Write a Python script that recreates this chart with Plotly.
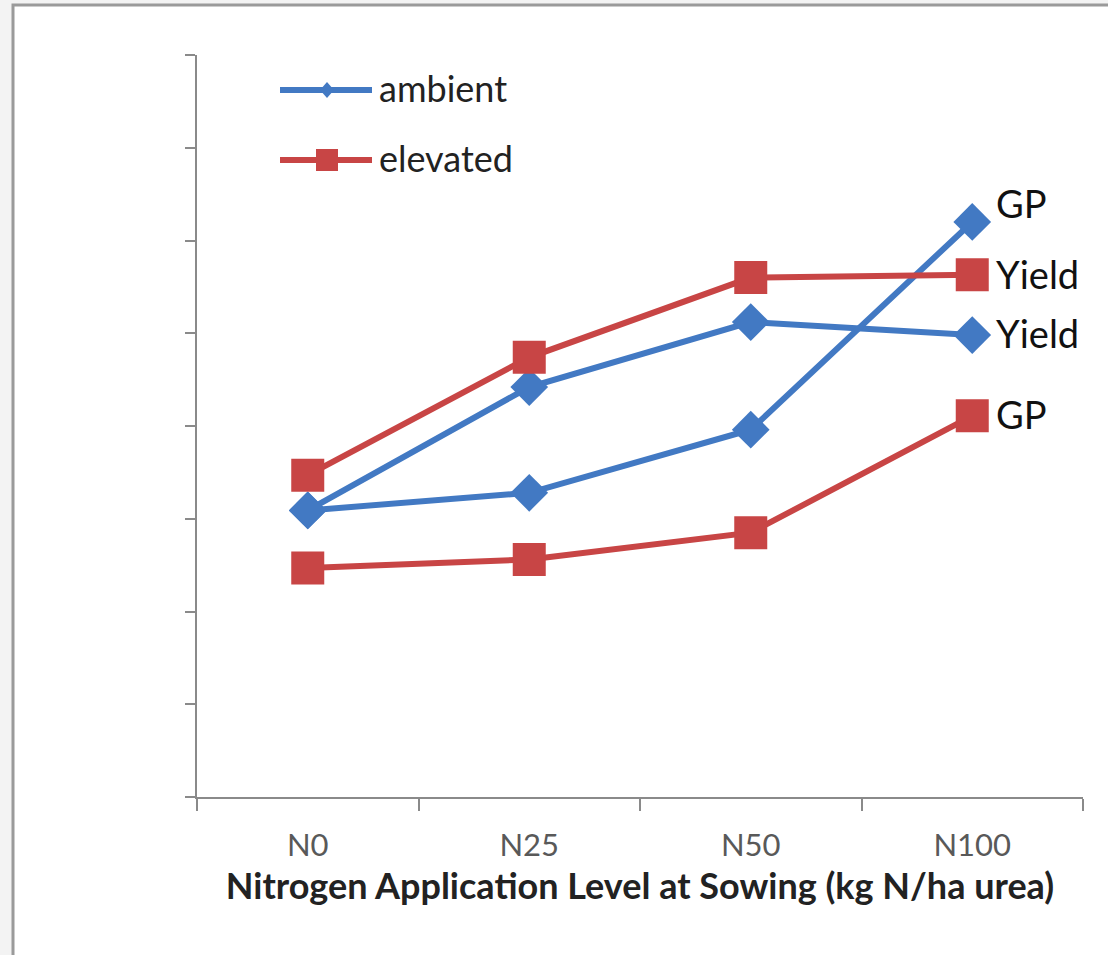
import plotly.graph_objects as go

categories = ["N0", "N25", "N50", "N100"]
ambient_yield = [3.09, 4.42, 5.12, 4.98]
ambient_gp = [3.09, 3.28, 3.96, 6.20]
elevated_yield = [3.47, 4.74, 5.60, 5.63]
elevated_gp = [2.47, 2.56, 2.85, 4.11]
series_names = ["ambient", "elevated"]
end_labels = ["GP", "Yield", "Yield", "GP"]

BLUE = "#4279c3"
RED = "#c84545"
FONT = "Lato, Open Sans, sans-serif"
W, H = 1108, 955
L, R, T, B = 197, 25, 55, 158

def px(x):
    return (x - L) / (W - L - R)

def py(y):
    return (H - B - y) / (H - T - B)

fig = go.Figure()

def add(yvals, color, symbol, size):
    fig.add_trace(go.Scatter(
        x=categories, y=yvals, mode="lines+markers",
        line=dict(color=color, width=6),
        marker=dict(symbol=symbol, size=size, color=color),
        showlegend=False, hoverinfo="skip"))

add(ambient_yield, BLUE, "diamond", 29)
add(ambient_gp, BLUE, "diamond", 29)
add(elevated_yield, RED, "square", 33)
add(elevated_gp, RED, "square", 33)

# end-of-line labels
label_pts = [(ambient_gp[-1], -19), (elevated_yield[-1], -1), (ambient_yield[-1], -2), (elevated_gp[-1], -2)]
for txt, (yv, ys) in zip(end_labels, label_pts):
    fig.add_annotation(x=categories[-1], y=yv, xref="x", yref="y", text=txt,
                       showarrow=False, xanchor="left", xshift=22, yshift=-ys,
                       font=dict(family=FONT, size=38, color="#111111"))

shapes = []
# outer frame
shapes.append(dict(type="rect", xref="paper", yref="paper",
                   x0=px(13), x1=px(1110), y0=py(958), y1=py(5),
                   line=dict(color="#9a9a9a", width=3), fillcolor="white", layer="below"))
# manual legend
legend_rows = [(90, BLUE, "diamond"), (160, RED, "square")]
for (yy, col, sym), name in zip(legend_rows, series_names):
    shapes.append(dict(type="line", xref="paper", yref="paper",
                       x0=px(280), x1=px(372), y0=py(yy), y1=py(yy),
                       line=dict(color=col, width=6)))
    if sym == "square":
        shapes.append(dict(type="rect", xref="paper", yref="paper",
                           x0=px(316), x1=px(338), y0=py(yy + 11), y1=py(yy - 11),
                           fillcolor=col, line=dict(width=0)))
    else:
        cx = 327
        path = "M {a},{b} L {c},{d} L {a},{e} L {f},{d} Z".format(
            a=px(cx), b=py(yy - 8), c=px(cx + 7), d=py(yy), e=py(yy + 8), f=px(cx - 7))
        shapes.append(dict(type="path", xref="paper", yref="paper", path=path,
                           fillcolor=col, line=dict(width=0)))
    fig.add_annotation(x=px(377), y=py(yy - 2), xref="paper", yref="paper", text=name,
                       showarrow=False, xanchor="left", yanchor="middle",
                       font=dict(family=FONT, size=36, color="#222222"))

fig.update_layout(
    width=W, height=H,
    margin=dict(l=L, r=R, t=T, b=B),
    paper_bgcolor="#f3f3f3", plot_bgcolor="rgba(0,0,0,0)",
    shapes=shapes,
    showlegend=False,
    font=dict(family=FONT),
)
fig.update_xaxes(
    type="category", range=[-0.5, 3.5], showgrid=False, zeroline=False,
    showline=True, linecolor="#8a8a8a", linewidth=2,
    ticks="outside", ticklen=12, tickwidth=2, tickcolor="#8a8a8a", tickson="boundaries",
    tickfont=dict(size=31, color="#595959"), ticklabelstandoff=20,
    title=dict(text="<b>Nitrogen Application Level at Sowing (kg N/ha urea)</b>",
               font=dict(size=36, color="#222222"), standoff=12),
)
fig.update_yaxes(
    range=[0, 8], dtick=1, tick0=0, showgrid=False, zeroline=False,
    showline=True, linecolor="#8a8a8a", linewidth=2,
    ticks="outside", ticklen=10, tickwidth=2, tickcolor="#8a8a8a",
    showticklabels=False,
)

fig.write_html("out.html")
